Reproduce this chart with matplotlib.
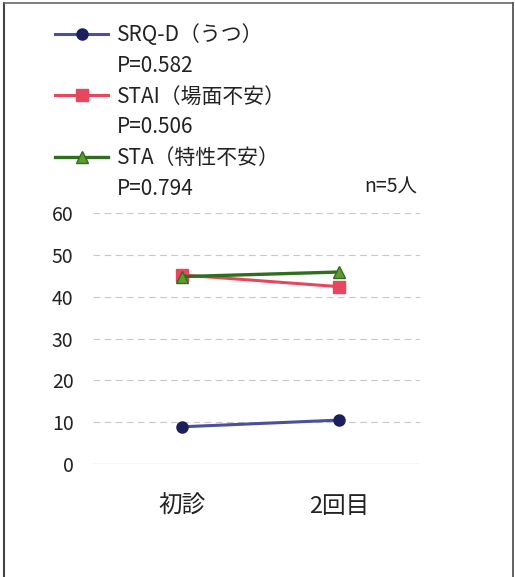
import matplotlib.pyplot as plt
from matplotlib.lines import Line2D

plt.rcParams['font.family'] = ['Noto Sans CJK JP', 'DejaVu Sans']

visits = ['初診', '2回目']
srq_d = [8.9, 10.5]
stai_state = [45.2, 42.4]
stai_trait = [44.8, 45.9]

names = ['SRQ-D（うつ）', 'STAI（場面不安）', 'STA（特性不安）']
pvals = ['P=0.582', 'P=0.506', 'P=0.794']
yticks = [0, 10, 20, 30, 40, 50, 60]

fig = plt.figure(figsize=(5.15, 5.77), dpi=100, facecolor='white')
ax = fig.add_axes([0.1806, 0.1958, 0.635, 0.435])

x = range(len(visits))
l1, = ax.plot(x, srq_d, color='#4b4f9c', lw=2.2, marker='o', ms=8,
              mfc='#1c1f5e', mec='#1c1f5e', zorder=4)
l2, = ax.plot(x, stai_state, color='#e8455f', lw=2.2, marker='s', ms=9,
              mfc='#e8455f', mec='#e8455f', zorder=3)
l3, = ax.plot(x, stai_trait, color='#2f6e1f', lw=2.4, marker='^', ms=9,
              mfc='#5f9c30', mec='#2f6e1f', mew=1, zorder=5)

ax.set_xlim(-0.567, 1.516)
ax.set_ylim(0, 60)
ax.set_yticks(yticks)
ax.set_xticks(list(x))
ax.set_xticklabels(visits, fontsize=17, color='#222222')
ax.tick_params(axis='y', length=0, pad=14, labelsize=14, labelcolor='#222222')
ax.tick_params(axis='x', length=0, pad=22)

for v in yticks[1:]:
    ax.axhline(v, color='#c8c8c8', lw=0.8, ls=(0, (6, 4)), zorder=1)
ax.axhline(0, color='#b0b0b0', lw=0.9, zorder=1)
for s in ax.spines.values():
    s.set_visible(False)

# legend rows: series name, then its p value on the line below
blank = Line2D([], [], color='none')
handles = [l1, blank, l2, blank, l3, blank]
labels = [names[0], pvals[0], names[1], pvals[1], names[2], pvals[2]]
leg = fig.legend(handles, labels, loc='upper left', bbox_to_anchor=(0.107, 0.958),
                 frameon=False, fontsize=15, handlelength=2.55, handletextpad=0.42,
                 labelspacing=0.42, borderaxespad=0, borderpad=0)
for t in leg.get_texts():
    t.set_color('#222222')

fig.text(0.708, 0.676, 'n=5人', fontsize=14, color='#222222', va='center')

# outer frame
fig.add_artist(Line2D([0.008, 0.008], [0, 0.995], color='#444444', lw=1.5))
fig.add_artist(Line2D([0.008, 0.997], [0.995, 0.995], color='#666666', lw=1.2))
fig.add_artist(Line2D([0.997, 0.997], [0, 0.995], color='#555555', lw=1.3))

fig.savefig('out.png', dpi=100, facecolor='white')
